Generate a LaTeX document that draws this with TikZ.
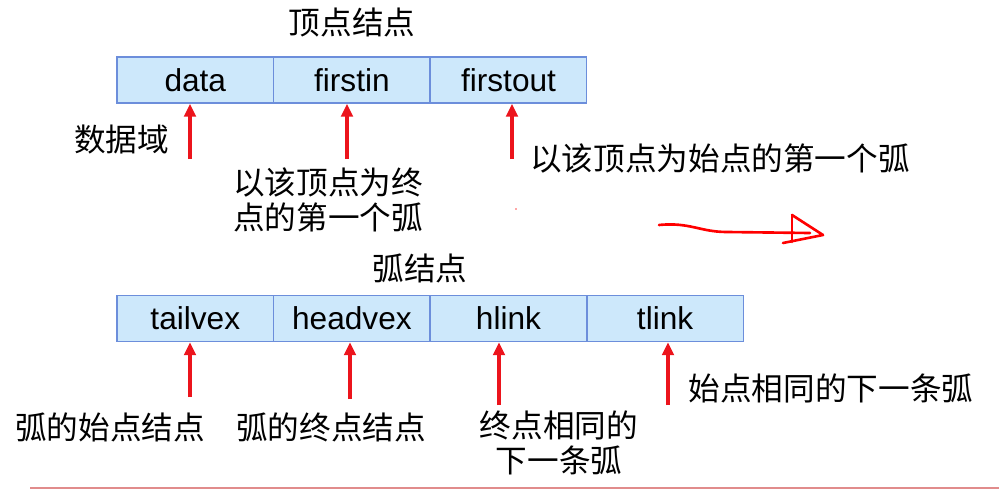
\documentclass[tikz,border=0pt]{standalone}
\usepackage{fontspec}
\setmainfont{Liberation Sans}
\newfontfamily\cjk{Noto Sans CJK SC}
\usetikzlibrary{arrows.meta}
\definecolor{cellfill}{RGB}{205,232,251}
\definecolor{cellborder}{RGB}{108,142,219}
\definecolor{inkred}{RGB}{236,20,28}
\definecolor{rulered}{RGB}{225,140,140}

\begin{document}
\begin{tikzpicture}[x=0.2mm, y=-0.2mm]
        % ================= 样式定义 =================
        \tikzset{
            % 结构体的一个域:浅蓝底蓝边矩形
            cell/.style={draw=cellborder, line width=0.8pt, fill=cellfill, minimum width=31.3mm, minimum height=9.2mm, inner sep=0pt, font=\fontsize{18}{20}\selectfont},
            % 红色指示箭头
            pointer/.style={inkred, line width=1.8pt, -{Triangle[length=2.6mm, width=2.3mm]}},
            % 中文说明文字
            note/.style={font=\cjk\fontsize{18}{19.5}\selectfont, inner sep=0pt, align=center},
            % 手写红笔
            handink/.style={red, line width=1.5pt, line cap=round, line join=round}
        }
        \useasboundingbox (0,0) rectangle (999,490);

        % ================= 上图:顶点结点 =================
        \node[note] (vtitle) at (352,22) {顶点结点};

        \node[cell] (data) at (195.3,80) {data};
        \node[cell] (firstin) at (351.9,80) {firstin};
        \node[cell] (firstout) at (508.5,80) {firstout};

        % 箭头尾端
        \coordinate (pData) at (190,159);
        \coordinate (pIn) at (347,159);
        \coordinate (pOut) at (512,159);

        \draw[pointer] (pData) -- (pData |- data.south);
        \draw[pointer] (pIn) -- (pIn |- firstin.south);
        \draw[pointer] (pOut) -- (pOut |- firstout.south);

        \node[note] (nData) at (121.5,140) {数据域};
        \node[note] (nIn) at (328,200) {以该顶点为终\\点的第一个弧};
        \node[note] (nOut) at (720,158) {以该顶点为始点的第一个弧};

        % 手写红笔箭头
        \fill[red!70] (516,209) circle (0.8);
        \draw[handink] (659,225) .. controls (690,222) and (700,232) .. (727,232) -- (810,233);
        \draw[handink] (792,215) -- (823,235) -- (783,243);
        \draw[handink] (792,215) -- (792,242);

        % ================= 下图:弧结点 =================
        \node[note] (atitle) at (420,268) {弧结点};

        \node[cell] (tailvex) at (195.3,318.5) {tailvex};
        \node[cell] (headvex) at (351.9,318.5) {headvex};
        \node[cell] (hlink) at (508.5,318.5) {hlink};
        \node[cell] (tlink) at (665.1,318.5) {tlink};

        % 箭头尾端
        \coordinate (pTail) at (190,397);
        \coordinate (pHead) at (350,399);
        \coordinate (pH) at (499,405);
        \coordinate (pT) at (668,405);

        \draw[pointer] (pTail) -- (pTail |- tailvex.south);
        \draw[pointer] (pHead) -- (pHead |- headvex.south);
        \draw[pointer] (pH) -- (pH |- hlink.south);
        \draw[pointer] (pT) -- (pT |- tlink.south);

        \node[note] (nTail) at (110,427) {弧的始点结点};
        \node[note] (nHead) at (331,427) {弧的终点结点};
        \node[note] (nH) at (559,443) {终点相同的\\下一条弧};
        \node[note] (nT) at (831,388) {始点相同的下一条弧};

        % 底部分隔线
        \coordinate (ruleL) at (30,488);
        \coordinate (ruleR) at (999,488);
        \draw[rulered, line width=1.4pt] (ruleL) -- (ruleR);

    \end{tikzpicture}
\end{document}
